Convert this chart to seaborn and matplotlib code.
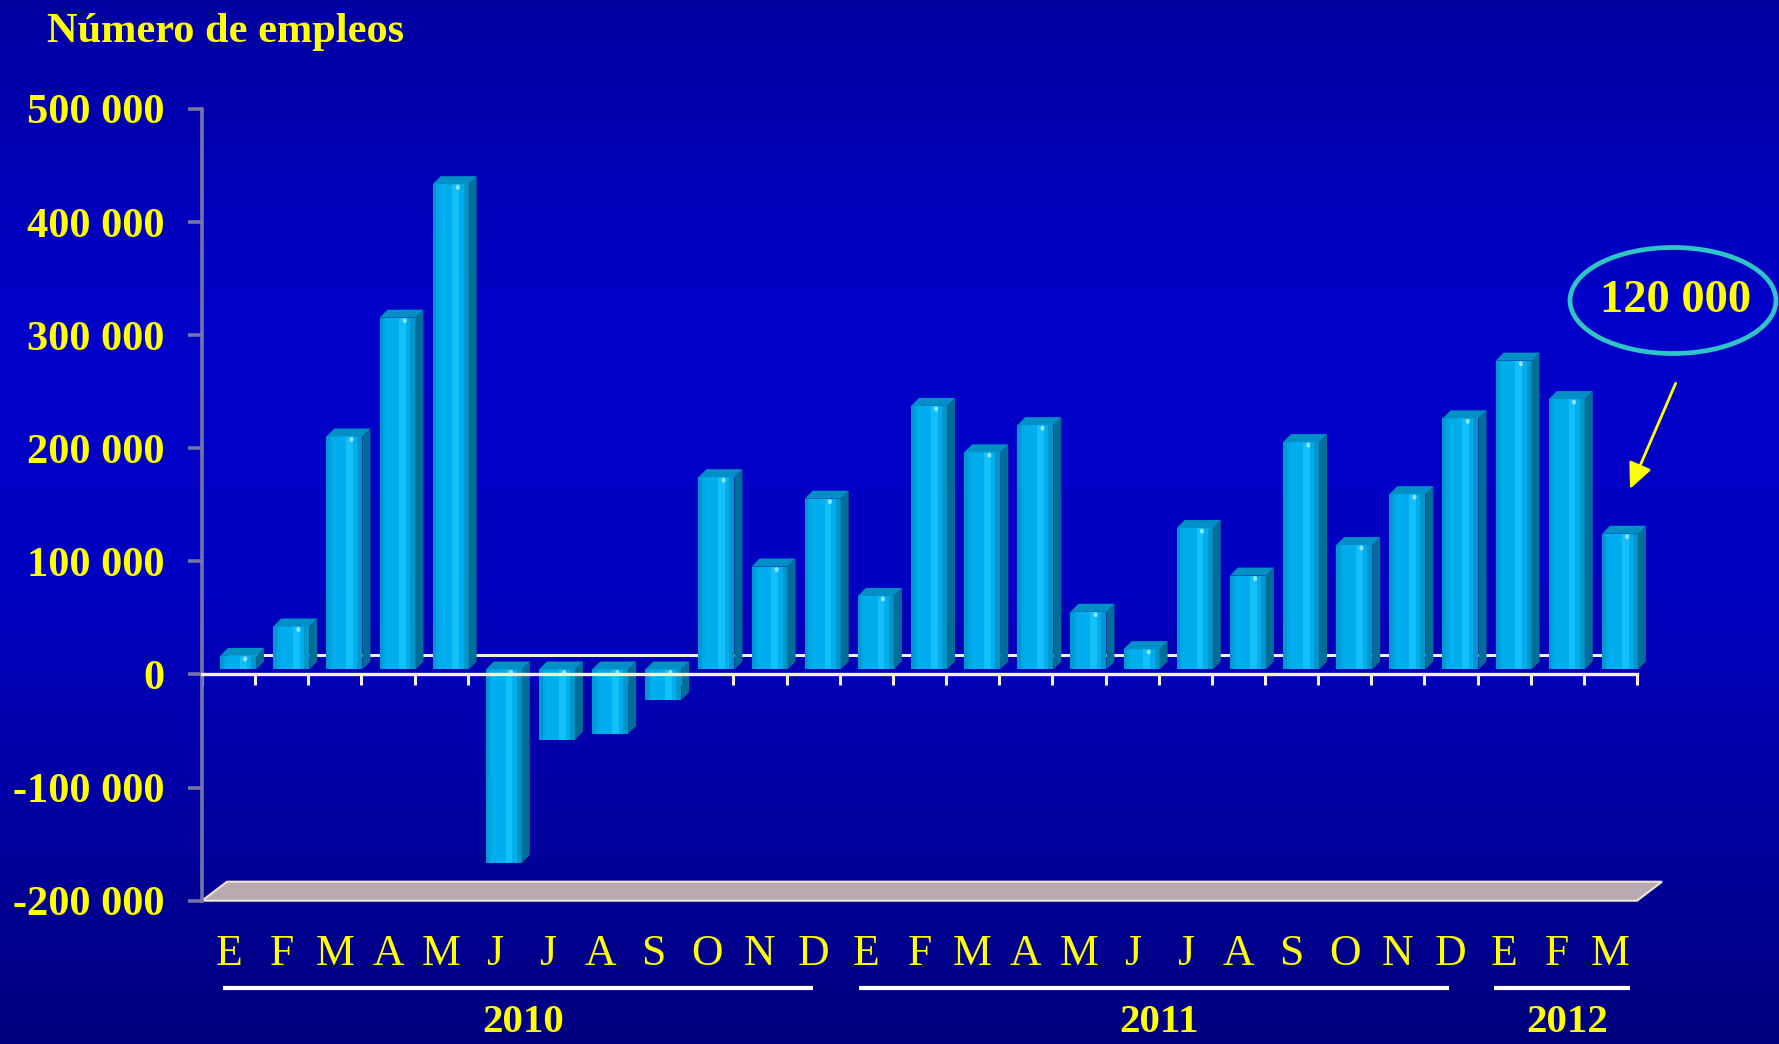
import numpy as np
import pandas as pd
import matplotlib
matplotlib.use("Agg")
import matplotlib.pyplot as plt
import seaborn as sns
from matplotlib.patches import Polygon, Ellipse, FancyArrowPatch, Rectangle
from matplotlib.transforms import offset_copy, IdentityTransform, blended_transform_factory

# --- data -------------------------------------------------------------
meses = ["E", "F", "M", "A", "M", "J", "J", "A", "S", "O", "N", "D",
         "E", "F", "M", "A", "M", "J", "J", "A", "S", "O", "N", "D",
         "E", "F", "M"]
anios = [2010] * 12 + [2011] * 12 + [2012] * 3
empleos = [12000, 38000, 206000, 311000, 429000, -171000, -62000, -57000, -27000, 170000, 91000, 151000,
           65000, 233000, 192000, 216000, 51000, 18000, 125000, 83000, 201000, 110000, 155000, 222000,
           273000, 239000, 120000]
yticks = [-200000, -100000, 0, 100000, 200000, 300000, 400000, 500000]
titulo = "Número de empleos"
destacado = "120 000"

# --- style ------------------------------------------------------------
W, H = 1779, 1044
AMARILLO = "#FFFF00"
CREMA = "#F4EEDC"
plt.rcParams["font.family"] = ["Liberation Serif", "DejaVu Serif"]

fig = plt.figure(figsize=(W / 100, H / 100), dpi=100)

# vertical blue background gradient
bg = fig.add_axes([0, 0, 1, 1], zorder=-10)
stops_y = [0.0, 0.30, 0.55, 1.0]
stops_b = [0.63, 0.79, 0.77, 0.50]
yy = np.linspace(0, 1, 400)
bb = np.interp(yy, stops_y, stops_b)
grad = np.zeros((400, 1, 3))
grad[:, 0, 2] = bb
bg.imshow(grad, aspect="auto", extent=[0, 1, 0, 1], origin="upper")
bg.set_axis_off()

ax = fig.add_axes([202 / W, 1 - 900.7 / H, (1637 - 202) / W, (900.7 - 108.9) / H], zorder=1)
ax.patch.set_alpha(0)

periodo = [f"{a}-{i % 12 + 1:02d}" for i, a in enumerate(anios)]
df = pd.DataFrame({"periodo": periodo, "empleos": empleos})
sns.barplot(data=df, x="periodo", y="empleos", order=periodo, color="#00AEEF",
            saturation=1, width=0.677, errorbar=None, ax=ax, linewidth=0, zorder=3)

ax.set_xlim(-0.5, len(periodo) - 0.5)
ax.set_ylim(-200000, 500000)

# axes styling
for s in ("top", "right"):
    ax.spines[s].set_visible(False)
ax.spines["left"].set_color("#7474A8")
ax.spines["left"].set_linewidth(2.6)
ax.spines["bottom"].set_position(("data", 0))
ax.spines["bottom"].set_color(CREMA)
ax.spines["bottom"].set_linewidth(2.4)
ax.spines["bottom"].set_zorder(6)

ax.set_yticks(yticks)
ax.set_yticklabels([f"{v:,}".replace(",", " ") for v in yticks])
ax.tick_params(axis="y", direction="out", length=10, width=2.6, color="#7474A8",
               pad=17, labelsize=30.5, labelcolor=AMARILLO)
for t in ax.get_yticklabels():
    t.set_fontweight("bold")
ax.set_xticks(np.arange(-0.5, len(periodo), 1.0))
ax.set_xticklabels([])
ax.tick_params(axis="x", direction="out", length=8, width=2.2, color=CREMA)
ax.set_xlabel("")
ax.set_ylabel("")

# depth offsets (pixels)
DX, DY = 25, 19          # full depth of the floor / back wall
BX, BY = 9.5, 5          # bar front face shift
SX, SY = 8, 8            # bar thickness seen on side and top

# back-wall zero line
tr_back = offset_copy(ax.transData, fig=fig, x=DX, y=DY, units="dots")
ax.plot([-0.5, len(periodo) - 0.5], [0, 0], color=CREMA, lw=2.2, transform=tr_back,
        zorder=1, solid_capstyle="butt")

# floor slab at the bottom of the value range
fl = ax.transData.transform([[-0.5, -200000], [len(periodo) - 0.5, -200000]])
floor = Polygon([fl[0], fl[1], fl[1] + [DX, DY], fl[0] + [DX, DY]], closed=True,
                transform=IdentityTransform(), facecolor="#B9A9B1", edgecolor="#EDE6D6",
                lw=1.5, zorder=1, clip_on=False)
ax.add_patch(floor)

# 3D bars: shift the fronts and add side / top faces and shading
tr_bar = offset_copy(ax.transData, fig=fig, x=BX, y=BY, units="dots")
ident = IdentityTransform()
bars = list(ax.patches)[:len(periodo)]
bars = [b for b in bars if isinstance(b, Rectangle)]
for p in bars:
    p.set_transform(tr_bar)
    p.set_zorder(3)
    x0 = p.get_x()
    x1 = x0 + p.get_width()
    lo = min(p.get_y(), p.get_y() + p.get_height())
    hi = max(p.get_y(), p.get_y() + p.get_height())
    (px0, py0), (px1, py1) = tr_bar.transform([[x0, lo], [x1, hi]])
    w = px1 - px0
    # shading strips on the front face
    strips = [(0.00, 0.10, "#0098D2"), (0.10, 0.18, "#00A6E4"), (0.55, 0.74, "#14BFFA"),
              (0.86, 1.00, "#0096CA")]
    for a, b, c in strips:
        ax.add_patch(Rectangle((px0 + a * w, py0), (b - a) * w, py1 - py0, transform=ident,
                               facecolor=c, lw=0, zorder=3.1, clip_on=False))
    # side face
    ax.add_patch(Polygon([(px1, py0), (px1, py1), (px1 + SX, py1 + SY), (px1 + SX, py0 + SY)],
                         closed=True, transform=ident, facecolor="#006E98", lw=0,
                         zorder=3.2, clip_on=False))
    # top face
    ax.add_patch(Polygon([(px0, py1), (px1, py1), (px1 + SX, py1 + SY), (px0 + SX, py1 + SY)],
                         closed=True, transform=ident, facecolor="#0090C6", lw=0,
                         zorder=3.2, clip_on=False))
    # small highlight near the top edge
    ax.add_patch(Ellipse((px0 + 0.70 * w, py1 - 3), 4, 5, transform=ident,
                         facecolor="#8FE6FF", lw=0, zorder=3.3, clip_on=False))

# month letters under the floor
btr = blended_transform_factory(ax.transData, fig.transFigure)
for i, m in enumerate(meses):
    ax.text(i, 1 - 965 / H, m, transform=btr, ha="center", va="baseline",
            fontsize=31.5, color=AMARILLO, clip_on=False)

# year underlines and labels
tramos = {2010: (-0.1, 11.0), 2011: (11.86, 22.96), 2012: (23.81, 26.37)}
for anio in sorted(set(anios)):
    a, b = tramos[anio]
    ax.plot([a, b], [1 - 987.7 / H] * 2, transform=btr, color="white", lw=3,
            solid_capstyle="butt", clip_on=False)
    ax.text((a + b) / 2 + 0.1, 1 - 1032 / H, str(anio), transform=btr, ha="center",
            va="baseline", fontsize=29.5, fontweight="bold", color=AMARILLO, clip_on=False)

# title
fig.text(46.7 / W, 1 - 42.3 / H, titulo, ha="left", va="baseline", fontsize=30.5,
         fontweight="bold", color=AMARILLO)

# highlighted value with ellipse and arrow
fig.add_artist(Ellipse((1673 / W, 1 - 300.5 / H), 206 / W, 106 / H, transform=fig.transFigure,
                       facecolor="none", edgecolor="#2FC4C6", lw=3.4))
fig.text(1676 / W, 1 - 301 / H, destacado, ha="center", va="center", fontsize=33.5,
         fontweight="bold", color=AMARILLO)
fig.add_artist(FancyArrowPatch((1675.7 / W, 1 - 383.3 / H), (1630 / W, 1 - 489 / H),
                               transform=fig.transFigure, arrowstyle="-|>,head_length=1.2,head_width=0.55",
                               mutation_scale=13, color=AMARILLO, lw=2.0, shrinkA=0, shrinkB=0))

fig.savefig("out.png", dpi=100)
